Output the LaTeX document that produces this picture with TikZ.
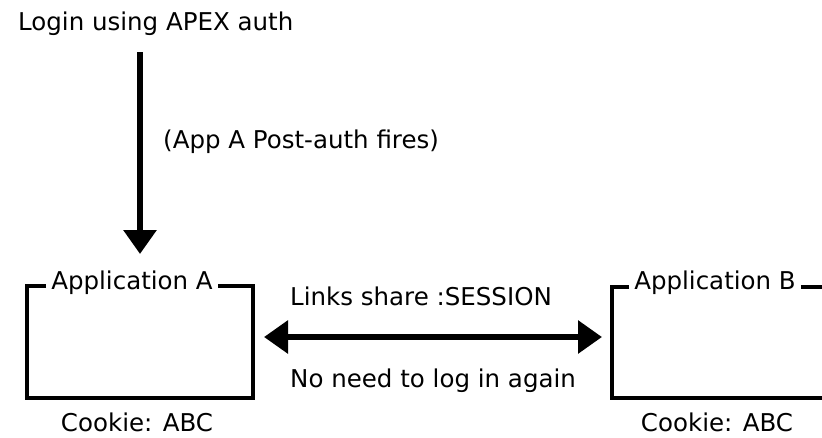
\documentclass[tikz,border=0pt]{standalone}
\usepackage{fontspec}
\setmainfont{DejaVu Sans}
\usetikzlibrary{arrows.meta}
\begin{document}
\begin{tikzpicture}[x=1pt,y=-1pt,
  lbl/.style={inner sep=0pt, font=\fontsize{24.5}{28}\selectfont},
  boxline/.style={line width=4pt, line join=miter},
  bigarrow/.style={line width=6pt, -{Triangle[width=32pt,length=24pt]}},
  dblarrow/.style={line width=6pt, {Triangle[width=32pt,length=24pt]}-{Triangle[width=32pt,length=24pt]}}]
\useasboundingbox (0,0) rectangle (822,437);
% top label and arrow
\node[lbl, anchor=west] (login) at (18,24) {Login using APEX auth};
\node[lbl, anchor=west] (post) at (163,142) {(App A Post-auth fires)};
\node[lbl] (appA) at (132,283) {Application A};
\node[lbl] (appB) at (715,283) {Application B};
\node[lbl] (cookA) at (137,422) {Cookie: ABC};
\node[lbl] (cookB) at (717,422) {Cookie: ABC};
\node[lbl, anchor=west] (links) at (290,296) {Links share :SESSION};
\node[lbl, anchor=west] (noneed) at (290,381) {No need to log in again};
% box A
\coordinate (aTL) at (27,286);
\coordinate (aBR) at (253,398);
\draw[boxline] ([xshift=-5pt]appA.west |- aTL) -- (aTL) -- (aTL |- aBR) -- (aBR) -- (aBR |- aTL) -- ([xshift=5pt]appA.east |- aTL);
% box B
\coordinate (bTL) at (612,287);
\coordinate (bBR) at (830,398);
\draw[boxline] ([xshift=-5pt]appB.west |- bTL) -- (bTL) -- (bTL |- bBR) -- (bBR);
\draw[boxline] ([xshift=5pt]appB.east |- bTL) -- (bBR |- bTL);
% arrows
\coordinate (vtop) at (140,52);
\coordinate (vbot) at (140,254);
\draw[bigarrow] (vtop) -- (vbot);
\coordinate (hl) at (264,337);
\coordinate (hr) at (602,337);
\draw[dblarrow] (hl) -- (hr);
\end{tikzpicture}
\end{document}
